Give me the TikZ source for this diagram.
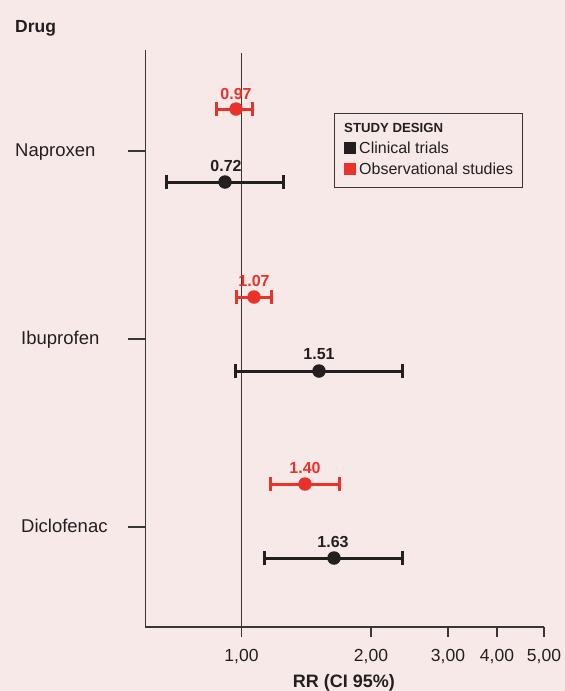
\documentclass[tikz,border=0pt]{standalone}
\usepackage{fontspec}
\setmainfont{Liberation Sans}
\usetikzlibrary{arrows.meta}
\definecolor{bgpink}{HTML}{F8E9E9}
\definecolor{obsred}{HTML}{E9322A}
\definecolor{ctblack}{HTML}{231F20}
\definecolor{axisgray}{HTML}{3A3536}
\tikzset{
  axisline/.style={draw=axisgray, line width=1.4pt},
  errbar/.style={line width=3pt, {Bar[width=14pt,line width=3pt]}-{Bar[width=14pt,line width=3pt]}},
  dotmark/.style={circle, inner sep=0pt, minimum size=13.5pt},
  vallabel/.style={font=\fontsize{16}{18}\selectfont\bfseries, anchor=base, inner sep=0pt},
  druglabel/.style={font=\fontsize{18.5}{20}\selectfont, text=ctblack, anchor=base west, inner sep=0pt},
  ticklabel/.style={font=\fontsize{17.5}{20}\selectfont, text=ctblack, anchor=base, inner sep=0pt},
  legtext/.style={font=\fontsize{16}{18}\selectfont, text=ctblack, anchor=base west, inner sep=0pt},
  legsq/.style={minimum size=12pt, inner sep=0pt},
}
\begin{document}
\begin{tikzpicture}[x=1pt, y=-1pt]
\fill[bgpink] (0,0) rectangle (565,691);
\useasboundingbox (0,0) rectangle (565,691);

% title
\node[font=\fontsize{17.5}{19}\selectfont\bfseries, text=ctblack, anchor=base west, inner sep=0pt] (drug) at (15,32) {Drug};

% axes
\coordinate (axtop) at (145.5,50);
\coordinate (axorigin) at (145.5,627);
\coordinate (axend) at (544,627);
\draw[axisline] (axtop) -- (axorigin) -- (axend);
\coordinate (reftop) at (241.5,53);
\coordinate (refbot) at (241.5,637);
\draw[axisline] (reftop) -- (refbot);

% x ticks
\foreach \xx/\lab/\nm in {241.5/{1,00}/t1, 371/{2,00}/t2, 448/{3,00}/t3, 497/{4,00}/t4, 544/{5,00}/t5}{
  \coordinate (\nm a) at (\xx,627);
  \coordinate (\nm b) at (\xx,637);
  \draw[axisline] (\nm a) -- (\nm b);
  \node[ticklabel] (\nm l) at (\xx,661) {\lab};
}
\node[font=\fontsize{18}{20}\selectfont\bfseries, text=ctblack, anchor=base, inner sep=0pt] (xlabel) at (344,687) {RR (CI 95\%)};

% y ticks and drug names
\foreach \yy/\lab/\nm/\lx in {151/Naproxen/nap/15, 339/Ibuprofen/ibu/21, 527/Diclofenac/dic/21}{
  \coordinate (\nm ta) at (128,\yy);
  \coordinate (\nm tb) at (145.5,\yy);
  \draw[axisline] (\nm ta) -- (\nm tb);
  \node[druglabel] (\nm l) at (\lx,\yy+5.5) {\lab};
}

% Naproxen
\coordinate (n1l) at (215,109); \coordinate (n1r) at (254,109);
\draw[errbar, obsred] (n1l) -- (n1r);
\node[dotmark, fill=obsred] (n1d) at (236,109) {};
\node[vallabel, text=obsred] (n1v) at (236,99) {0.97};

\coordinate (n2l) at (165,182); \coordinate (n2r) at (285,182);
\draw[errbar, ctblack] (n2l) -- (n2r);
\node[dotmark, fill=ctblack] (n2d) at (225,182) {};
\node[vallabel, text=ctblack] (n2v) at (226,171) {0.72};

% Ibuprofen
\coordinate (i1l) at (235,297); \coordinate (i1r) at (273,297);
\draw[errbar, obsred] (i1l) -- (i1r);
\node[dotmark, fill=obsred] (i1d) at (254,297) {};
\node[vallabel, text=obsred] (i1v) at (254,286) {1.07};

\coordinate (i2l) at (234,371); \coordinate (i2r) at (404,371);
\draw[errbar, ctblack] (i2l) -- (i2r);
\node[dotmark, fill=ctblack] (i2d) at (319,371) {};
\node[vallabel, text=ctblack] (i2v) at (319,359) {1.51};

% Diclofenac
\coordinate (d1l) at (269,484); \coordinate (d1r) at (341,484);
\draw[errbar, obsred] (d1l) -- (d1r);
\node[dotmark, fill=obsred] (d1d) at (305,484) {};
\node[vallabel, text=obsred] (d1v) at (305,473) {1.40};

\coordinate (d2l) at (263,558); \coordinate (d2r) at (404,558);
\draw[errbar, ctblack] (d2l) -- (d2r);
\node[dotmark, fill=ctblack] (d2d) at (334,558) {};
\node[vallabel, text=ctblack] (d2v) at (333,547) {1.63};

% legend
\node[draw=axisgray, line width=1pt, minimum width=188pt, minimum height=74pt, inner sep=0pt] (leg) at (428,150) {};
\node[font=\fontsize{13.2}{15}\selectfont\bfseries, text=ctblack, anchor=base west, inner sep=0pt] (legtitle) at (344,132) {STUDY DESIGN};
\node[legsq, fill=ctblack] (sqct) at (350,148) {};
\node[legtext] (legct) at (359,153) {Clinical trials};
\node[legsq, fill=obsred] (sqobs) at (350,169) {};
\node[legtext] (legobs) at (359,174) {Observational studies};
\end{tikzpicture}
\end{document}
